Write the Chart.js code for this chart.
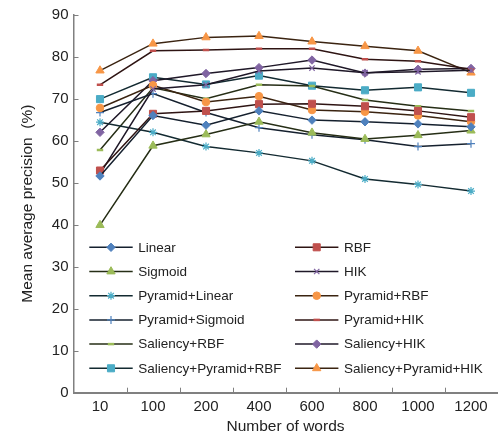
<!DOCTYPE html>
<html>
<head>
<meta charset="utf-8">
<script src="https://cdn.jsdelivr.net/npm/chart.js@4.4.0/dist/chart.umd.min.js"></script>
<style>
  html, body { margin: 0; padding: 0; overflow: hidden; background: #fff; }
  #wrap { position: absolute; left: 0; top: 0; width: 504px; height: 436px; }
</style>
</head>
<body>
<div id="wrap"><canvas id="myChart" width="504" height="436"></canvas></div>
<script>
const words = ['10', '100', '200', '400', '600', '800', '1000', '1200'];
const yTicks = [0, 10, 20, 30, 40, 50, 60, 70, 80, 90];

const seriesNames = [
  'Linear', 'RBF', 'Sigmoid', 'HIK', 'Pyramid+Linear', 'Pyramid+RBF',
  'Pyramid+Sigmoid', 'Pyramid+HIK', 'Saliency+RBF', 'Saliency+HIK',
  'Saliency+Pyramid+RBF', 'Saliency+Pyramid+HIK'
];

const linear = [51.6, 66.0, 63.7, 67.1, 64.9, 64.5, 64.0, 63.3];
const rbf = [52.9, 66.4, 67.1, 68.7, 68.8, 68.2, 67.1, 65.6];
const sigmoid = [39.9, 58.8, 61.5, 64.5, 61.9, 60.4, 61.3, 62.4];
const hik = [52.1, 72.3, 73.3, 76.6, 77.3, 76.2, 76.4, 76.8];
const pyramidLinear = [64.4, 62.0, 58.6, 57.1, 55.2, 50.9, 49.6, 48.0];
const pyramidRbf = [67.8, 73.2, 69.2, 70.6, 67.3, 66.9, 66.0, 64.5];
const pyramidSigmoid = [66.7, 71.2, 66.7, 63.1, 61.4, 60.2, 58.6, 59.3];
const pyramidHik = [73.3, 81.4, 81.6, 81.9, 81.9, 79.4, 78.9, 77.0];
const saliencyRbf = [57.8, 72.6, 70.0, 73.3, 73.0, 69.7, 68.2, 67.1];
const saliencyHik = [62.0, 74.3, 76.0, 77.4, 79.2, 76.1, 77.0, 77.2];
const saliencyPyramidRbf = [69.9, 75.1, 73.4, 75.5, 73.1, 72.0, 72.7, 71.4];
const saliencyPyramidHik = [76.7, 83.1, 84.6, 84.9, 83.6, 82.5, 81.4, 76.2];

const allValues = [linear, rbf, sigmoid, hik, pyramidLinear, pyramidRbf,
  pyramidSigmoid, pyramidHik, saliencyRbf, saliencyHik, saliencyPyramidRbf, saliencyPyramidHik];

// marker colour, line colour, marker shape, marker radius
const looks = [
  ['#4F81BD', '#15202e', 'rectRot', 4.2],
  ['#C0504D', '#2e1413', 'rect', 5],
  ['#9BBB59', '#262e16', 'triangle', 4.8],
  ['#8064A2', '#1f1828', 'crossRot', 3.8],
  ['#4BACC6', '#132a31', 'star', 4],
  ['#F79646', '#3b2411', 'circle', 3.8],
  ['#4F81BD', '#15202e', 'cross', 4],
  ['#C0504D', '#2e1413', 'line', 3.2],
  ['#9BBB59', '#262e16', 'line', 3.2],
  ['#8064A2', '#1f1828', 'rectRot', 4.2],
  ['#4BACC6', '#132a31', 'rect', 5],
  ['#F79646', '#3b2411', 'triangle', 4.8]
];

const font = "'Liberation Sans', Arial, sans-serif";
const axisGray = '#808080';

const datasets = seriesNames.map((name, i) => {
  const [mark, line, shape, r] = looks[i];
  const stroked = shape === 'crossRot' || shape === 'cross' || shape === 'star' || shape === 'line';
  return {
    label: name,
    data: allValues[i],
    borderColor: line,
    borderWidth: 1.5,
    pointStyle: shape,
    pointRadius: r,
    pointBackgroundColor: mark,
    pointBorderColor: mark,
    pointBorderWidth: stroked ? (shape === 'line' ? 2.5 : 1.2) : 1,
    tension: 0,
    fill: false
  };
});

// inward tick marks like the original
const innerTicks = {
  id: 'innerTicks',
  afterDraw(chart) {
    const { ctx, chartArea, scales } = chart;
    ctx.save();
    ctx.strokeStyle = axisGray;
    ctx.lineWidth = 1;
    yTicks.forEach((v) => {
      const y = Math.round(scales.y.getPixelForValue(v)) + 0.5;
      ctx.beginPath();
      ctx.moveTo(chartArea.left, y);
      ctx.lineTo(chartArea.left + 5, y);
      ctx.stroke();
    });
    const step = scales.x.getPixelForValue(1) - scales.x.getPixelForValue(0);
    for (let i = 1; i < words.length; i++) {
      const x = Math.round(scales.x.getPixelForValue(i) - step / 2) + 0.5;
      ctx.beginPath();
      ctx.moveTo(x, chartArea.bottom);
      ctx.lineTo(x, chartArea.bottom - 5);
      ctx.stroke();
    }
    ctx.restore();
  }
};

// two-column legend inside the plot
const boxLegend = {
  id: 'boxLegend',
  afterDraw(chart) {
    const ctx = chart.ctx;
    ctx.save();
    chart.data.datasets.forEach((ds, i) => {
      const col = i % 2;
      const row = Math.floor(i / 2);
      const x0 = col ? 295 : 89.3;
      const y = 247.3 + row * 24.2;
      ctx.strokeStyle = ds.borderColor;
      ctx.lineWidth = 1.5;
      ctx.beginPath();
      ctx.moveTo(x0, y);
      ctx.lineTo(x0 + 43.4, y);
      ctx.stroke();
      ctx.fillStyle = ds.pointBackgroundColor;
      ctx.strokeStyle = ds.pointBorderColor;
      ctx.lineWidth = ds.pointBorderWidth;
      Chart.helpers.drawPoint(ctx, {
        pointStyle: ds.pointStyle,
        radius: ds.pointRadius,
        rotation: 0,
        borderWidth: ds.pointBorderWidth
      }, x0 + 21.7, y);
      ctx.fillStyle = '#222';
      ctx.font = '13.5px ' + font;
      ctx.textBaseline = 'middle';
      ctx.textAlign = 'left';
      ctx.fillText(ds.label, x0 + 49, y + 0.5);
    });
    ctx.restore();
  }
};

new Chart(document.getElementById('myChart'), {
  type: 'line',
  data: { labels: words, datasets: datasets },
  plugins: [innerTicks, boxLegend],
  options: {
    responsive: false,
    animation: false,
    layout: { padding: { top: 14.7, right: 0.5, left: 0, bottom: 0 } },
    plugins: { legend: { display: false }, tooltip: { enabled: false } },
    scales: {
      x: {
        type: 'category',
        offset: true,
        grid: { display: false, drawTicks: false },
        border: { display: true, color: axisGray, width: 2 },
        ticks: { color: '#222', font: { family: font, size: 15 }, padding: 5, maxRotation: 0, autoSkip: false },
        title: { display: true, text: 'Number of words', color: '#222', font: { family: font, size: 15.5 }, padding: { top: 0, bottom: 0 } },
        afterFit(scale) { scale.height = 43.3; }
      },
      y: {
        min: 0,
        max: 90,
        grid: { display: false, drawTicks: false },
        border: { display: true, color: axisGray, width: 1.5 },
        ticks: { stepSize: 10, color: '#222', font: { family: font, size: 15 }, padding: 5 },
        title: { display: true, text: 'Mean average precision  (%)', color: '#222', font: { family: font, size: 15.5 }, padding: { top: 18, bottom: 0 } },
        afterFit(scale) { scale.width = 73.5; }
      }
    }
  }
});
</script>
</body>
</html>
